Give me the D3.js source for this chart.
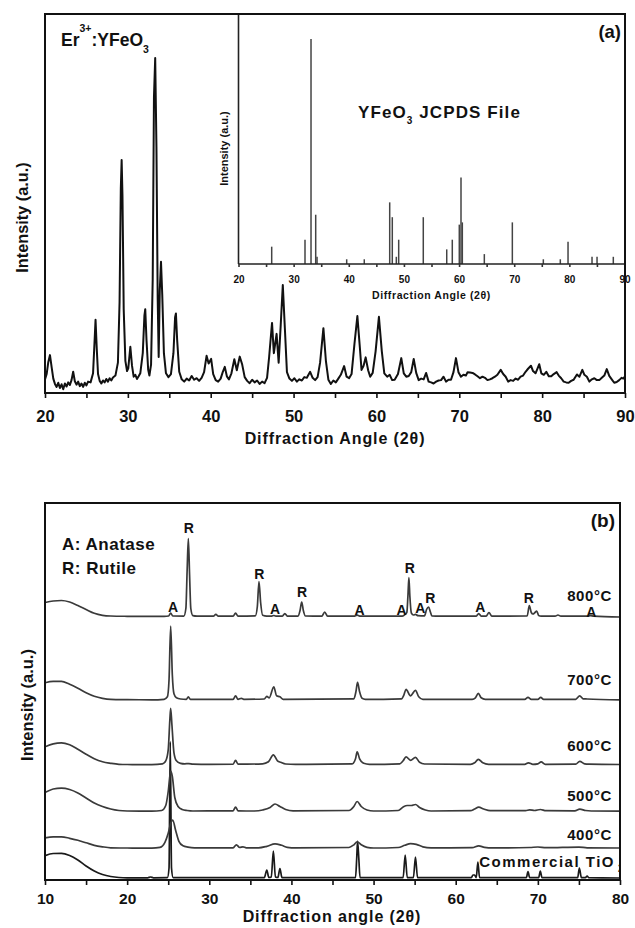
<!DOCTYPE html>
<html>
<head>
<meta charset="utf-8">
<script src="https://cdn.jsdelivr.net/npm/d3@7"></script>
<style>
  html, body { margin: 0; padding: 0; background: #fff; }
  svg { display: block; }
  text { font-family: "Liberation Sans", Arial, sans-serif; font-weight: bold; fill: #111; }
</style>
</head>
<body>
<svg id="fig" width="635" height="928"></svg>
<script>
// ---------- (a) Er3+:YFeO3 measured pattern: [2θ, intensity] ----------
const erYFeO3 = [
[20.0,3.6],[20.2,5.0],[20.4,8.2],[20.6,10.0],[20.8,6.8],[21.0,3.8],[21.2,2.4],[21.4,1.6],[21.6,2.7],[21.8,1.3],
[22.0,2.3],[22.2,1.0],[22.4,2.5],[22.6,1.7],[22.8,2.8],[23.0,2.1],[23.2,3.4],[23.4,5.6],[23.6,3.1],[23.8,2.2],
[24.0,3.0],[24.2,1.8],[24.4,2.5],[24.6,1.6],[24.8,2.7],[25.0,2.0],[25.2,3.0],[25.5,2.8],[25.8,5.2],[26.0,14.5],
[26.1,19.3],[26.25,11.5],[26.4,5.0],[26.6,3.2],[26.8,2.5],[27.0,3.3],[27.2,2.8],[27.4,3.7],[27.6,3.0],[27.8,3.9],
[28.0,3.3],[28.2,4.1],[28.5,4.6],[28.8,8.0],[29.0,24],[29.15,54],[29.25,61.5],[29.35,52],[29.5,22],[29.7,8.5],
[29.9,5.8],[30.05,6.5],[30.3,12.2],[30.5,7.2],[30.7,4.3],[30.9,4.8],[31.1,3.7],[31.3,4.4],[31.5,5.2],[31.8,10.5],
[32.0,20.5],[32.1,22.1],[32.25,14],[32.45,6.2],[32.6,4.6],[32.8,7.5],[33.0,30],[33.15,78],[33.3,88.4],[33.45,65],
[33.6,25],[33.72,9.5],[33.85,27],[34.0,34.6],[34.15,26],[34.35,10.5],[34.6,5.2],[34.9,4.2],[35.2,5.0],[35.5,10.5],
[35.7,20],[35.8,21.0],[35.95,14],[36.2,5.6],[36.5,3.6],[36.8,3.0],[37.1,3.8],[37.4,3.3],[37.7,4.5],[38.0,3.5],
[38.3,3.9],[38.6,3.2],[38.9,4.0],[39.2,5.5],[39.5,9.8],[39.75,7.8],[40.05,9.0],[40.3,5.0],[40.6,3.4],[40.9,3.0],
[41.2,3.8],[41.45,5.5],[41.7,6.9],[41.95,4.4],[42.2,3.6],[42.5,5.2],[42.85,8.9],[43.15,6.0],[43.5,9.6],[43.8,7.5],
[44.1,4.2],[44.4,3.2],[44.7,2.6],[45.0,3.5],[45.3,2.8],[45.6,3.3],[45.9,2.4],[46.2,3.0],[46.5,2.6],[46.8,4.0],
[47.05,9.5],[47.4,18.5],[47.62,10.5],[47.95,15.6],[48.2,8.0],[48.45,18],[48.7,28.5],[48.95,17],[49.2,5.5],[49.5,3.8],
[49.8,3.2],[50.1,3.9],[50.4,3.0],[50.7,3.6],[51.0,3.3],[51.3,4.2],[51.6,4.0],[52.0,5.6],[52.3,4.0],[52.6,3.4],
[52.9,4.2],[53.2,8.0],[53.6,17.1],[53.9,8.5],[54.2,3.5],[54.5,2.4],[54.8,3.3],[55.1,2.8],[55.4,3.8],[55.7,4.8],
[56.1,7.1],[56.4,4.3],[56.7,3.9],[57.0,5.0],[57.35,13],[57.7,20.3],[58.0,12],[58.2,6.1],[58.45,7.2],[58.7,9.4],
[59.0,6.0],[59.25,4.3],[59.55,5.3],[59.9,11],[60.3,20.1],[60.65,11],[60.95,5.2],[61.3,4.3],[61.6,4.8],[61.9,3.4],
[62.2,3.5],[62.6,5.0],[63.0,9.2],[63.3,5.2],[63.6,4.3],[63.9,4.5],[64.2,5.5],[64.5,9.0],[64.8,5.3],[65.1,3.4],
[65.4,3.8],[65.7,3.6],[66.0,5.3],[66.3,3.0],[66.6,2.8],[66.9,2.5],[67.2,3.0],[67.5,3.3],[67.8,3.4],[68.1,4.3],
[68.4,3.0],[68.7,3.5],[69.0,3.5],[69.3,5.5],[69.6,9.2],[69.9,5.5],[70.2,4.3],[70.5,4.8],[70.8,4.6],[71.0,5.5],
[71.3,5.4],[71.6,5.3],[71.9,4.9],[72.2,4.4],[72.5,3.9],[72.8,4.3],[73.1,4.0],[73.4,3.4],[73.7,3.6],[74.0,3.9],
[74.3,4.3],[74.6,4.8],[75.0,6.1],[75.3,5.0],[75.6,4.3],[75.9,3.0],[76.2,3.4],[76.5,3.2],[76.8,3.8],[77.1,3.5],
[77.4,4.3],[77.7,4.6],[78.0,5.6],[78.3,6.4],[78.65,7.2],[78.9,5.8],[79.2,5.2],[79.45,6.5],[79.65,7.6],[79.9,5.2],
[80.2,4.8],[80.5,5.6],[80.8,4.4],[81.1,4.4],[81.4,5.0],[81.75,5.5],[82.0,4.6],[82.3,3.9],[82.6,3.0],[82.9,2.8],
[83.2,2.7],[83.5,3.2],[83.8,3.5],[84.2,4.9],[84.5,4.3],[84.85,6.1],[85.1,4.8],[85.4,4.3],[85.7,3.0],[86.0,3.6],
[86.3,3.9],[86.6,3.4],[86.9,3.4],[87.2,4.0],[87.5,4.6],[87.8,6.3],[88.1,4.5],[88.4,3.6],[88.7,2.7],[89.0,2.9],
[89.3,3.4],[89.6,4.0],[89.8,3.8],[90.0,4.4]
];

// ---------- (a) inset: YFeO3 JCPDS reference lines ----------
const jcpdsAngles = [26.02,32.06,33.15,34.0,34.24,39.62,42.81,47.42,47.89,48.62,49.05,53.51,57.76,58.77,60.04,60.35,60.59,64.58,69.66,75.28,78.36,79.76,84.11,85.02,87.97];
const jcpdsIntensity = [7.7,10.8,100,21.9,3.2,2.1,2.1,27.4,20.8,3.2,10.8,20.8,6.5,10.8,17.5,38.5,18.5,4.4,18.5,2.1,2.1,9.9,3.2,3.2,3.2];

const ticksA = [20,25,30,35,40,45,50,55,60,65,70,75,80,85,90];
const ticksB = [10,15,20,25,30,35,40,45,50,55,60,65,70,75,80];

// ---------- (b) TiO2 patterns, each relative to its own baseline: [2θ, intensity] ----------
const commercialTiO2 = [
[10,22.3],[11,24.5],[12,24.7],[13,22.5],[14,18],[15,12],[16,7],[17,3.5],[18,1.5],[19,0.5],[20,0.2],[22.5,0.2],
[22.85,1],[23.2,0.2],[24.9,0.3],[25.1,10],[25.25,136.3],[25.4,10],[25.6,0.3],[36.7,0.3],[37.0,8],[37.25,0.5],
[37.55,1],[37.8,27],[38.05,1],[38.35,0.5],[38.6,9.5],[38.85,0.3],[47.8,0.4],[47.95,20],[48.05,37],[48.2,20],
[48.35,0.4],[53.6,0.4],[53.85,23],[54.1,0.4],[54.85,0.4],[55.1,21],[55.35,0.4],[61.9,0.4],[62.1,3],[62.3,3],
[62.5,0.4],[62.7,16],[62.9,0.4],[68.6,0.4],[68.8,6.5],[69.0,0.4],[70.1,0.4],[70.3,7],[70.5,0.4],[74.85,0.4],
[75.05,10],[75.3,0.4],[75.8,0.4],[76.0,2],[76.2,0.3],[80,0]
];
const tio2_400 = [
[10,10.5],[11,11.5],[12,11.5],[13,10],[14,8],[15,5.5],[16,3],[17,1.5],[18,0.5],[20,0.3],[23,0.2],[24.0,1],
[24.6,6],[25.0,15],[25.3,25],[25.55,28.3],[25.9,18],[26.3,7],[26.8,2.5],[27.4,1.2],[28.2,0.5],[32.9,0.5],
[33.3,3.5],[33.7,0.8],[34.1,1.5],[34.5,0.5],[36,0.5],[37.0,2],[38.0,4.5],[38.8,3],[39.5,1],[40.5,0.4],[47,0.8],
[47.6,3.5],[48.0,6.5],[48.5,3.5],[49.2,1],[50,0.3],[53,0.8],[53.8,3],[54.5,4.7],[55.2,4],[56,1.5],[57,0.5],
[62,0.6],[62.8,2.5],[63.5,1],[64.5,0.4],[69,0.8],[70,1.3],[71,0.6],[75,1.2],[76,0.5],[80,0.3]
];
const tio2_500 = [
[10,19],[11,22.5],[12,23.4],[13,22],[14,18.5],[15,13.5],[16,8.5],[17,5],[18,2.5],[19,1],[20,0.5],[23,0.3],
[24.2,1],[24.7,6],[25.0,20],[25.3,40.3],[25.5,35],[25.8,14],[26.2,5],[26.7,2],[27.3,1],[28,0.5],[32.9,0.7],
[33.2,4.5],[33.5,0.7],[35.5,0.5],[36.5,1.5],[37.4,4],[38.0,7.5],[38.6,5],[39.3,2],[40.2,0.6],[47.0,1],[47.6,5],
[48.0,10],[48.5,5],[49.2,1.5],[50,0.5],[53.0,1],[53.6,4.5],[54.1,6],[54.6,6],[55.1,7],[55.6,4],[56.3,1.5],
[57,0.5],[61.8,0.8],[62.3,2.5],[62.8,4.3],[63.4,2.5],[64.2,0.8],[68.5,0.8],[69.0,1.6],[69.6,1],[70.3,2],[71,0.8],
[74.5,0.7],[75.1,2.3],[75.8,1],[76.5,0.5],[80,0.3]
];
const tio2_600 = [
[10,18],[11,21],[12,22],[13,20],[14,15.5],[15,10.5],[16,6],[17,3],[18,1.5],[19,0.5],[20,0.3],[23,0.2],
[24.3,1],[24.7,4],[25.0,15],[25.2,45],[25.3,56.5],[25.45,40],[25.7,12],[26.0,4],[26.5,1.5],[27.0,1],[27.5,1.2],
[28,0.6],[30,0.4],[32.9,0.6],[33.2,4.5],[33.5,0.6],[36.5,1],[37.2,3],[37.8,10],[38.3,4],[38.7,2.5],[39.3,0.8],
[40.5,0.5],[47.4,1],[47.8,6],[48.0,13],[48.3,6],[48.8,1.5],[49.5,0.5],[53.2,1],[53.6,4],[53.95,8],[54.5,4.5],
[55.1,7.5],[55.6,2.5],[56.2,0.8],[61.8,0.5],[62.3,2],[62.75,5.5],[63.3,2],[64,0.5],[68.4,0.5],[68.85,2],
[69.4,0.5],[70.0,1],[70.4,3],[70.9,0.5],[74.6,0.6],[75.1,3.5],[75.7,1],[76.2,0.6],[80,0.3]
];
const tio2_700 = [
[10,17],[11,18.5],[12,18.5],[13,15.5],[14,11.5],[15,7],[16,3.5],[17,1.5],[18,0.5],[20,0.2],[23,0],[24.5,0.5],
[24.9,3],[25.1,20],[25.3,73.8],[25.5,25],[25.7,6],[26.0,2],[26.5,0.8],[27.2,0.5],[27.45,3],[27.7,0.5],[32.9,0.5],
[33.2,4],[33.5,0.5],[33.9,1.5],[34.2,0.5],[36.7,0.8],[37.0,3.5],[37.3,2],[37.85,13],[38.2,4],[38.6,3],[39.0,0.5],
[47.6,1],[47.85,8],[48.05,17.5],[48.3,8],[48.6,1.5],[49.0,0.5],[53.4,1],[53.7,5],[53.95,10.5],[54.5,4],[55.1,9.5],
[55.5,3],[56.0,0.5],[62.0,0.5],[62.4,2],[62.75,6.5],[63.1,2],[63.6,0.5],[68.4,0.5],[68.8,2.5],[69.2,0.5],
[70.0,0.5],[70.35,2.5],[70.7,0.5],[74.6,0.5],[75.1,4],[75.5,1],[76.0,0.8],[80,0]
];
const tio2_800 = [
[10,14],[11,15.5],[12,16],[13,14.5],[14,11],[15,7],[16,3.2],[17,1.2],[18,0.5],[20,0.2],[22,0.1],[24.5,0.2],
[25.05,0.5],[25.3,3.5],[25.55,0.5],[26.9,0.4],[27.15,8],[27.3,45],[27.45,78],[27.6,42],[27.75,8],[28.0,0.8],
[28.5,0.3],[30.5,0.3],[30.8,2.2],[31.1,0.3],[32.9,0.3],[33.2,3.5],[33.5,0.3],[35.6,0.6],[35.85,10],[36.05,35],
[36.25,14],[36.5,1.2],[37.0,0.4],[37.6,0.4],[37.85,1.0],[38.1,0.4],[38.9,0.4],[39.2,3.0],[39.5,0.4],[40.8,0.4],
[41.05,6],[41.25,14.5],[41.45,6],[41.7,0.5],[43.7,0.3],[44.05,4.5],[44.4,0.3],[47.6,0.3],[48.0,1.3],[48.4,0.3],
[53.5,0.4],[53.85,2.2],[54.05,4],[54.18,20],[54.3,39],[54.42,20],[54.6,3.5],[54.85,1.5],[55.1,2.2],[55.4,0.8],
[56.2,0.6],[56.45,7],[56.7,9.5],[56.9,5],[57.1,0.5],[58,0.3],[62.5,0.4],[62.8,3.0],[63.1,0.4],[63.7,0.4],
[64.05,4.0],[64.4,0.4],[68.7,0.5],[68.96,11],[69.2,4],[69.4,2.5],[69.65,4],[69.86,5.5],[70.1,1],[70.4,0.4],
[72.1,0.3],[72.45,1.5],[72.8,0.3],[76.0,0.3],[76.4,0.9],[76.8,0.3],[80,-0.5]
];

const seriesB = [commercialTiO2, tio2_400, tio2_500, tio2_600, tio2_700, tio2_800];
const seriesNames = ["Commercial TiO", "400°C", "500°C", "600°C", "700°C", "800°C"];
const seriesOffsets = [2, 31.7, 68.5, 115.2, 180.2, 263.5];
const nameLevels = [13, 40, 79, 129, 195, 279];

// Phase markers on the 800°C pattern: [letter, 2θ, label level]
const phaseMarks = [
  ["A",25.6,268],["R",27.5,347],["R",36.1,301],["A",38.0,266],["R",41.3,283],["A",48.3,265],
  ["A",53.4,265],["R",54.4,307],["A",55.7,267],["R",56.9,277],["A",63.0,268],["R",68.9,277],["A",76.5,263]
];

// ---------- drawing ----------
const svg = d3.select("#fig");
const FONT = "'Liberation Sans', Arial, sans-serif";

function styleAxis(g, size, color) {
  g.select(".domain").remove();
  g.selectAll(".tick line").attr("stroke", color).attr("stroke-width", 1.6);
  g.selectAll(".tick text").attr("font-family", FONT).attr("font-weight", "bold")
    .attr("font-size", size).attr("fill", color);
}

// ===== panel (a) =====
const aX = d3.scaleLinear([20, 90], [45, 625]);
const aY = d3.scaleLinear([0, 100], [393, 14]);
const iX = d3.scaleLinear([20, 90], [238.5, 624.5]);
const iY = d3.scaleLinear([0, 100], [264, 39]);

const gA = svg.append("g");

// inset reference lines
gA.append("g").selectAll("line").data(jcpdsAngles).join("line")
  .attr("x1", d => iX(d)).attr("x2", d => iX(d))
  .attr("y1", iY(0)).attr("y2", (d, i) => iY(jcpdsIntensity[i]))
  .attr("stroke", "#444").attr("stroke-width", 1.5);

// inset axes
gA.append("line").attr("x1", iX(20)).attr("x2", iX(20)).attr("y1", 14).attr("y2", iY(0))
  .attr("stroke", "#222").attr("stroke-width", 1.6);
gA.append("line").attr("x1", iX(20)).attr("x2", iX(90)).attr("y1", iY(0)).attr("y2", iY(0))
  .attr("stroke", "#222").attr("stroke-width", 1.6);
const insetAxis = gA.append("g").attr("transform", `translate(0,${iY(0)})`)
  .call(d3.axisBottom(iX).tickValues(ticksA).tickSize(3).tickPadding(9)
    .tickFormat(d => d % 10 === 0 ? d : ""));
styleAxis(insetAxis, 10, "#333");

gA.append("text").attr("x", (iX(20) + iX(90)) / 2).attr("y", 299).attr("text-anchor", "middle")
  .attr("font-size", 10.5).attr("letter-spacing", 0.6).attr("fill", "#333").text("Diffraction Angle (2θ)");
gA.append("text").attr("transform", "translate(228,148.5) rotate(-90)").attr("text-anchor", "middle")
  .attr("font-size", 11).attr("fill", "#333").text("Intensity (a.u.)");

const jc = gA.append("text").attr("x", 358).attr("y", 117.5).attr("font-size", 17).attr("letter-spacing", 1.1);
jc.append("tspan").text("YFeO");
jc.append("tspan").attr("font-size", 10).attr("dy", 6.5).text("3");
jc.append("tspan").attr("dy", -6.5).text(" JCPDS File");

// measured trace
gA.append("path").datum(erYFeO3)
  .attr("fill", "none").attr("stroke", "#111").attr("stroke-width", 2).attr("stroke-linejoin", "round")
  .attr("d", d3.line().x(d => aX(d[0])).y(d => aY(d[1])));

// frame and axis
gA.append("rect").attr("x", 45).attr("y", 14).attr("width", 580).attr("height", 379)
  .attr("fill", "none").attr("stroke", "#111").attr("stroke-width", 2);
const axA = gA.append("g").attr("transform", "translate(0,393)")
  .call(d3.axisBottom(aX).tickValues(ticksA).tickSize(5).tickPadding(12)
    .tickFormat(d => d % 10 === 0 ? d : ""));
styleAxis(axA, 16.5, "#111");

gA.append("text").attr("x", 335).attr("y", 443.5).attr("text-anchor", "middle")
  .attr("font-size", 16).attr("letter-spacing", 0.9).text("Diffraction Angle (2θ)");
gA.append("text").attr("transform", "translate(28,217.5) rotate(-90)").attr("text-anchor", "middle")
  .attr("font-size", 16.3).text("Intensity (a.u.)");

const er = gA.append("text").attr("x", 61).attr("y", 45.5).attr("font-size", 17.5);
er.append("tspan").text("Er");
er.append("tspan").attr("font-size", 10.5).attr("dy", -14).text("3+");
er.append("tspan").attr("dy", 14).text(":YFeO");
er.append("tspan").attr("font-size", 10.5).attr("dy", 7.5).text("3");

gA.append("text").attr("x", 621).attr("y", 38).attr("text-anchor", "end")
  .attr("font-size", 18.5).text("(a)");

// ===== panel (b) =====
const bX = d3.scaleLinear([10, 80], [45, 620]);
const bY = d3.scaleLinear([0, 377], [880, 503]);

const gB = svg.append("g");
svg.append("defs").append("clipPath").attr("id", "clipB")
  .append("rect").attr("x", 45).attr("y", 503).attr("width", 575.5).attr("height", 377);

const plotB = gB.append("g").attr("clip-path", "url(#clipB)");

seriesB.forEach((pts, i) => {
  const off = seriesOffsets[i];
  plotB.append("path").datum(pts)
    .attr("fill", "none").attr("stroke", i === 0 ? "#1a1a1a" : "#3a3a3a")
    .attr("stroke-width", 1.7).attr("stroke-linejoin", "round")
    .attr("d", d3.line().curve(d3.curveMonotoneX).x(d => bX(d[0])).y(d => bY(d[1] + off)));
});

// sample names (the subscript of TiO2 runs under the right frame edge)
seriesNames.forEach((name, i) => {
  plotB.append("text").attr("x", i === 0 ? 615 : 612).attr("y", bY(nameLevels[i]))
    .attr("text-anchor", "end").attr("font-size", 15)
    .attr("letter-spacing", i === 0 ? 1.5 : 0.6).attr("fill", "#222").text(name);
});
plotB.append("text").attr("x", 618).attr("y", bY(nameLevels[0]) + 5)
  .attr("font-size", 10).attr("fill", "#222").text("2");

// phase markers
plotB.selectAll("text.phase").data(phaseMarks).join("text").attr("class", "phase")
  .attr("x", d => bX(d[1])).attr("y", d => bY(d[2])).attr("text-anchor", "middle")
  .attr("font-size", 14).attr("fill", "#222").text(d => d[0]);

gB.append("text").attr("x", 62).attr("y", 549.5).attr("font-size", 17).attr("letter-spacing", 0.5).text("A: Anatase");
gB.append("text").attr("x", 62).attr("y", 574).attr("font-size", 17).attr("letter-spacing", 0.5).text("R: Rutile");
gB.append("text").attr("x", 615).attr("y", 527).attr("text-anchor", "end").attr("font-size", 19).text("(b)");

gB.append("rect").attr("x", 45).attr("y", 503).attr("width", 575).attr("height", 377)
  .attr("fill", "none").attr("stroke", "#111").attr("stroke-width", 2);
const axB = gB.append("g").attr("transform", "translate(0,880)")
  .call(d3.axisBottom(bX).tickValues(ticksB).tickSize(5).tickPadding(8)
    .tickFormat(d => d % 10 === 0 ? d : ""));
styleAxis(axB, 15.5, "#111");

gB.append("text").attr("x", 332).attr("y", 922).attr("text-anchor", "middle")
  .attr("font-size", 16).attr("letter-spacing", 0.9).text("Diffraction angle (2θ)");
gB.append("text").attr("transform", "translate(33,705) rotate(-90)").attr("text-anchor", "middle")
  .attr("font-size", 16.5).text("Intensity (a.u.)");
</script>
</body>
</html>
